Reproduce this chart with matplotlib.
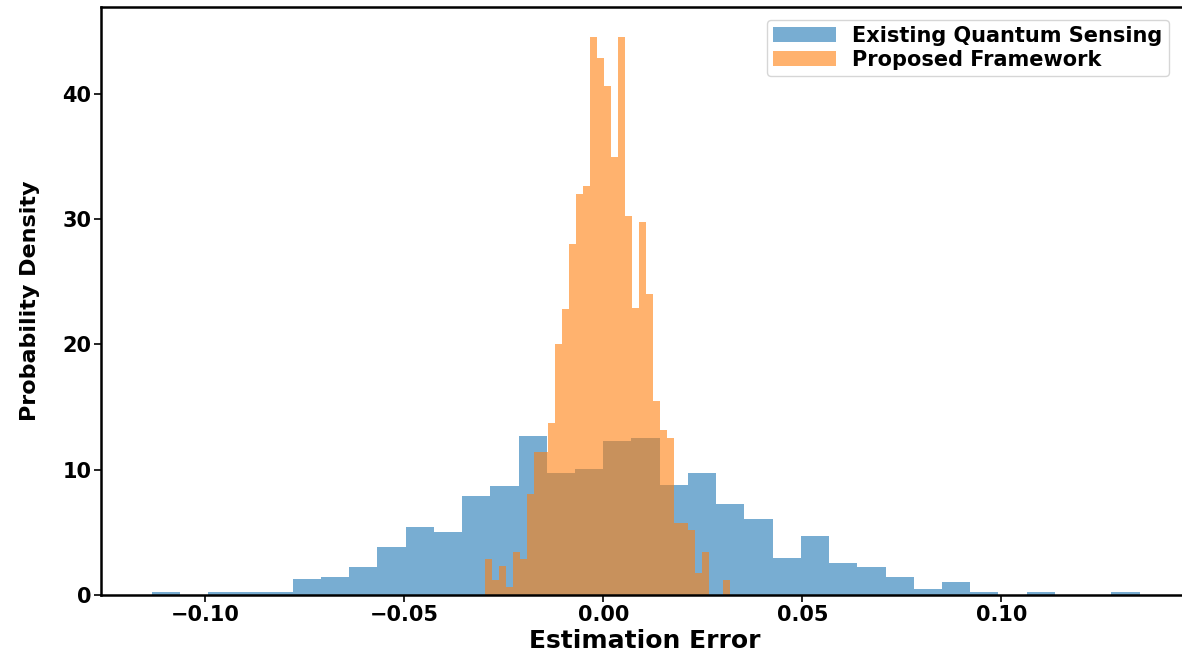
import numpy as np
import matplotlib.pyplot as plt

# histogram densities per bin (35 equal-width bins each)
existing_range = (-0.1135, 0.1347)
existing_density = [0.2, 0.0, 0.2, 0.2, 0.2, 1.25, 1.46, 2.2, 3.8, 5.4,
                    5.06, 7.93, 8.73, 12.72, 9.77, 10.04, 12.3, 12.56, 8.78, 9.77,
                    7.24, 6.07, 2.93, 4.71, 2.53, 2.21, 1.46, 0.48, 1.01, 0.21,
                    0.0, 0.2, 0.0, 0.0, 0.2]

proposed_range = (-0.0297, 0.0317)
proposed_density = [2.87, 1.2, 2.34, 0.67, 3.43, 2.9, 8.04, 11.44, 11.44, 13.71,
                    20.04, 22.83, 27.97, 31.96, 32.6, 44.53, 42.8, 40.56, 34.92, 44.53,
                    30.2, 22.86, 29.73, 24.03, 15.49, 13.17, 12.56, 5.72, 5.72, 5.19,
                    1.73, 3.43, 0.0, 0.0, 1.2]

labels = ['Existing Quantum Sensing', 'Proposed Framework']

fig = plt.figure(figsize=(11.82, 6.52), dpi=100)
# the right-hand spine falls just past the figure edge
ax = fig.add_axes([101 / 1182, 57 / 652, 1088 / 1182, 588 / 652])

for rng, dens, lab in [(existing_range, existing_density, labels[0]),
                       (proposed_range, proposed_density, labels[1])]:
    edges = np.linspace(rng[0], rng[1], len(dens) + 1)
    ax.hist(edges[:-1], bins=edges, weights=dens, alpha=0.6, label=lab)

ax.set_xlim(-0.1262, 0.1471)
ax.set_ylim(0, 46.9)
ax.set_xlabel('Estimation Error', fontsize=18, fontweight='bold', labelpad=3)
ax.set_ylabel('Probability Density', fontsize=16, fontweight='bold', labelpad=16)
ax.set_yticks([0, 10, 20, 30, 40])
ax.set_xticks([-0.10, -0.05, 0.0, 0.05, 0.10])
ax.set_xticklabels(['\u22120.10', '\u22120.05', '0.00', '0.05', '0.10'])
for t in ax.get_xticklabels() + ax.get_yticklabels():
    t.set_fontsize(15)
    t.set_fontweight('bold')
for s in ax.spines.values():
    s.set_linewidth(1.8)
ax.tick_params(width=1.2, length=5, pad=2)

ax.legend(loc='upper right', prop={'weight': 'bold', 'size': 15},
          handlelength=3, borderaxespad=0.6, borderpad=0.3, labelspacing=0.2,
          bbox_to_anchor=(0.993, 1.0))

fig.savefig('out.png', dpi=100)
